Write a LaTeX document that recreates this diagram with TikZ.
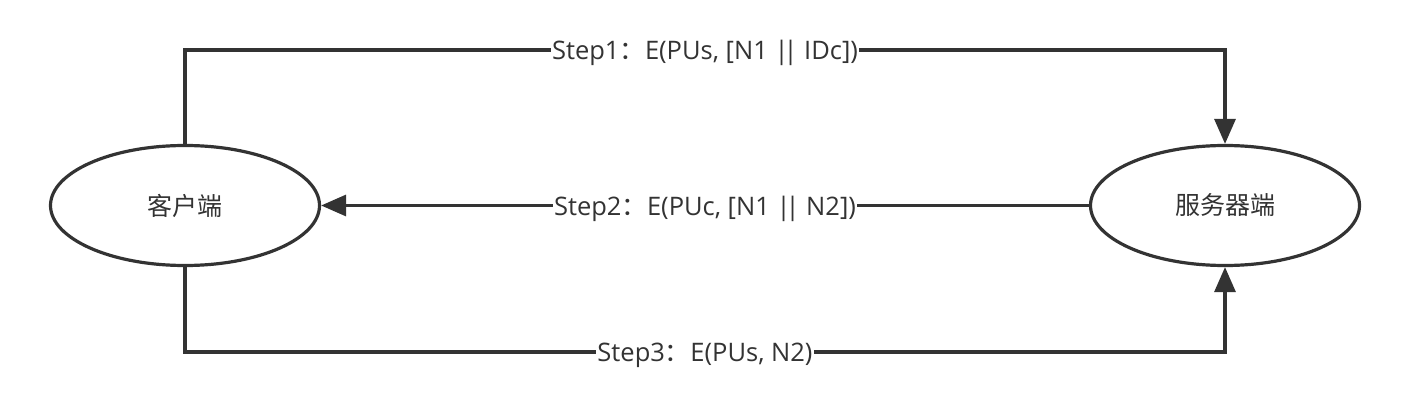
\documentclass[tikz,border=0pt]{standalone}
\usepackage{fontspec}
\setmainfont{Open Sans}
\newfontfamily\cjk{Noto Sans CJK SC}
\usetikzlibrary{shapes.geometric}
\usetikzlibrary{arrows.meta}
\definecolor{ink}{HTML}{333333}
\newcommand{\bars}{|\kern-5pt|}
\tikzset{%
    party/.style={ellipse,draw=ink,line width=3.2pt,minimum width=269pt,minimum height=120pt,inner sep=0pt,font=\cjk\fontsize{25}{28}\selectfont,text=ink},
    msg/.style={fill=white,inner sep=1pt,yshift=-3pt,font=\fontsize{25.5}{28}\selectfont,text=ink}
}
\begin{document}
\begin{tikzpicture}[
                x=1pt,y=-1pt,
                conn/.style={draw=ink,line width=3.2pt,-{Triangle[length=25pt,width=21pt]}}
            ]
            \useasboundingbox (0,0) rectangle (1410,406);
            \node[party] (client) at (185,205.5){\raisebox{-3pt}{客户端}};
            \node[party] (server) at (1225,205.5){\raisebox{-3pt}{服务器端}};
            \coordinate (top) at (0,50);
            \coordinate (bot) at (0,352);

            \draw[conn] (client.north) -- (client.north |- top) -- node[msg]{Step1{\cjk ：}E(PUs, [N1 \bars{} IDc])}(server.north |- top) -- (server.north);
            \draw[conn] (server.west) -- node[msg]{Step2{\cjk ：}E(PUc, [N1 \bars{} N2])}(client.east);
            \draw[conn] (client.south) -- (client.south |- bot) -- node[msg]{Step3{\cjk ：}E(PUs, N2)}(server.south |- bot) -- (server.south);
        \end{tikzpicture}
\end{document}
